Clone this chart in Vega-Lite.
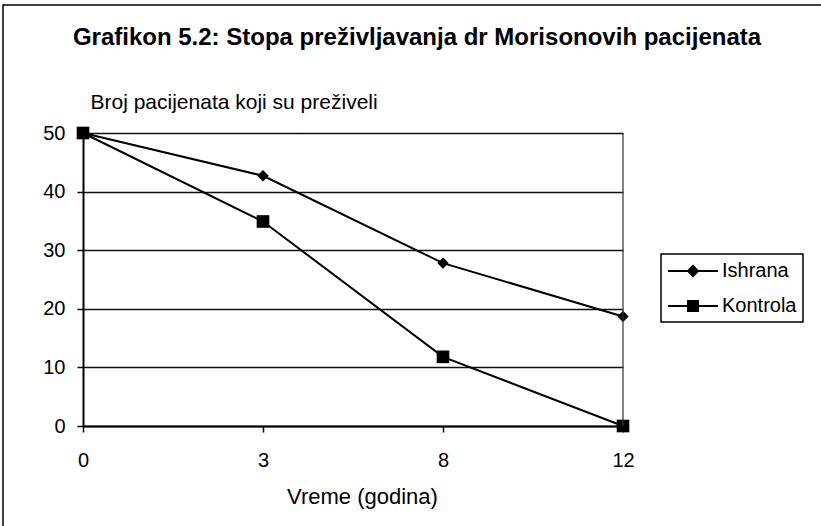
{
  "$schema": "https://vega.github.io/schema/vega-lite/v6.json",
  "width": 820,
  "height": 523,
  "autosize": {"type": "none"},
  "padding": {"left": 3, "top": 5, "right": -2, "bottom": -2},
  "background": "white",
  "config": {
    "view": {"stroke": "black", "strokeWidth": 1.5, "fill": "white"},
    "font": "Liberation Sans"
  },
  "title": {
    "text": "Grafikon 5.2: Stopa preživljavanja dr Morisonovih pacijenata",
    "font": "Liberation Sans",
    "fontSize": 24,
    "fontWeight": "bold",
    "color": "black",
    "anchor": "middle",
    "frame": "group",
    "baseline": "alphabetic",
    "offset": -64,
    "dx": 4
  },
  "data": {
    "values": [
      {"s": "Ishrana", "t": 0, "v": 50},
      {"s": "Ishrana", "t": 3, "v": 42.7},
      {"s": "Ishrana", "t": 8, "v": 27.8},
      {"s": "Ishrana", "t": 12, "v": 18.7},
      {"s": "Kontrola", "t": 0, "v": 50},
      {"s": "Kontrola", "t": 3, "v": 34.9},
      {"s": "Kontrola", "t": 8, "v": 11.8},
      {"s": "Kontrola", "t": 12, "v": 0}
    ]
  },
  "encoding": {
    "x": {
      "field": "t",
      "type": "ordinal",
      "scale": {"type": "point", "range": [80, 620], "padding": 0},
      "axis": {
        "title": "Vreme (godina)",
        "offset": -102,
        "labelAngle": 0,
        "domain": true,
        "domainColor": "black",
        "domainWidth": 2,
        "ticks": true,
        "tickSize": 6,
        "tickColor": "black",
        "tickWidth": 1.5,
        "labelPadding": 18,
        "labelFont": "Liberation Sans",
        "labelFontSize": 20,
        "labelColor": "black",
        "grid": false,
        "titleX": 359,
        "titleY": 77,
        "titleAlign": "center",
        "titleBaseline": "alphabetic",
        "titleFont": "Liberation Sans",
        "titleFontSize": 22,
        "titleFontWeight": "normal",
        "titleColor": "black"
      }
    },
    "y": {
      "field": "v",
      "type": "quantitative",
      "scale": {"domain": [0, 50], "range": [421, 128], "nice": false, "zero": false},
      "axis": {
        "title": "Broj pacijenata koji su preživeli",
        "values": [0, 10, 20, 30, 40, 50],
        "offset": -80,
        "domain": true,
        "domainColor": "black",
        "domainWidth": 2,
        "ticks": true,
        "tickSize": 6,
        "tickColor": "black",
        "tickWidth": 1.5,
        "labelPadding": 12,
        "labelFont": "Liberation Sans",
        "labelFontSize": 20,
        "labelColor": "black",
        "grid": true,
        "gridColor": "#111111",
        "gridWidth": 1.5,
        "titleAngle": 0,
        "titleAlign": "left",
        "titleBaseline": "alphabetic",
        "titleX": 7,
        "titleY": 103,
        "titleFont": "Liberation Sans",
        "titleFontSize": 21,
        "titleFontWeight": "normal",
        "titleColor": "black"
      }
    }
  },
  "layer": [
    {
      "mark": {"type": "line", "strokeWidth": 2},
      "encoding": {
        "color": {
          "field": "s",
          "type": "nominal",
          "scale": {"domain": ["Ishrana", "Kontrola"], "range": ["black", "black"]},
          "legend": {
            "orient": "none",
            "legendX": 658,
            "legendY": 249,
            "title": null,
            "padding": 6,
            "strokeColor": "black",
            "fillColor": "white",
            "labelFont": "Liberation Sans",
            "labelFontSize": 20,
            "labelColor": "black",
            "labelOffset": 18,
            "symbolOffset": 15,
            "symbolType": "M-2.5,0H2.5",
            "symbolSize": 400,
            "symbolStrokeWidth": 2,
            "symbolStrokeColor": "black",
            "symbolFillColor": "black",
            "rowPadding": 14,
            "encode": {
              "symbols": {
                "update": {
                  "shape": {"signal": "datum.value === 'Ishrana' ? 'M-2.5,0H2.5M0,-0.5L0.5,0L0,0.5L-0.5,0Z' : 'M-2.5,0H2.5M-0.5,-0.5H0.5V0.5H-0.5Z'"},
                  "fill": {"value": "black"},
                  "stroke": {"value": "black"},
                  "strokeWidth": {"value": 2},
                  "opacity": {"value": 1}
                }
              },
              "legend": {"update": {"strokeWidth": {"value": 1.5}}}
            }
          }
        }
      }
    },
    {
      "transform": [{"filter": "datum.s === 'Ishrana'"}],
      "mark": {"type": "point", "shape": "diamond", "filled": true, "color": "black", "size": 130, "opacity": 1}
    },
    {
      "transform": [{"filter": "datum.s === 'Kontrola'"}],
      "mark": {"type": "point", "shape": "square", "filled": true, "color": "black", "size": 160, "opacity": 1}
    },
    {
      "data": {"values": [{"t": 12, "v": 0, "v2": 50}]},
      "mark": {"type": "rule", "color": "#333333", "strokeWidth": 1.2},
      "encoding": {"y2": {"field": "v2"}}
    }
  ]
}
